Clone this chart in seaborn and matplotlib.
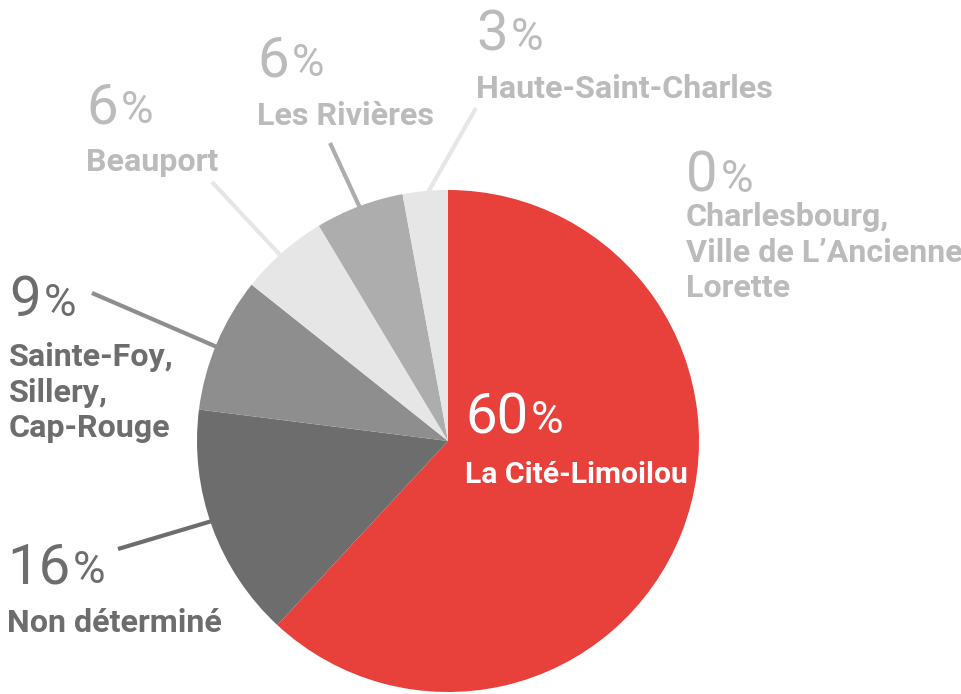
import matplotlib
matplotlib.use("Agg")
import matplotlib.pyplot as plt
import seaborn as sns

# ---- data ----
regions = ["La Cité-Limoilou", "Non déterminé", "Sainte-Foy,\nSillery,\nCap-Rouge",
           "Beauport", "Les Rivières", "Haute-Saint-Charles",
           "Charlesbourg,\nVille de L’Ancienne-\nLorette"]
shares = [61.9, 15.1, 8.7, 5.7, 5.7, 2.9, 0.0]          # slice sizes as drawn
pct_labels = ["60", "16", "9", "6", "6", "3", "0"]     # printed percentages
slice_colors = ["#E8403A", "#6D6D6D", "#8E8E8E", "#E6E6E6", "#ADADAD", "#E6E6E6", "#E6E6E6"]
text_colors = ["#FFFFFF", "#6D6D6D", "#6D6D6D", "#BBBBBB", "#BBBBBB", "#BBBBBB", "#BBBBBB"]

sns.set_theme(style="white")
plt.rcParams["font.family"] = ["Roboto", "DejaVu Sans"]

W, H = 962, 694
fig = plt.figure(figsize=(W / 100, H / 100), dpi=100)
ax = fig.add_axes([0, 0, 1, 1])

def Y(y):
    return H - y

cx, cy, r = 448, 441, 251
ax.pie(shares, colors=slice_colors, startangle=90, counterclock=False,
       center=(cx, Y(cy)), radius=r, wedgeprops=dict(linewidth=0))
ax.set_xlim(0, W)
ax.set_ylim(0, H)
ax.set_aspect("equal")
ax.axis("off")

# leader lines (pixel coords: outer end -> pie edge)
leaders = {
    1: ((118, 549), (212, 521), "#6D6D6D"),
    2: ((92, 293), (217, 347), "#8E8E8E"),
    3: ((212, 182), (281, 256), "#E6E6E6"),
    4: ((330, 143), (361, 210), "#ADADAD"),
    5: ((476, 108), (427, 194), "#E6E6E6"),
}
for i, ((x0, y0), (x1, y1), c) in leaders.items():
    ax.plot([x0, x1], [Y(y0), Y(y1)], color=c, lw=3, solid_capstyle="butt", zorder=1)

# label anchors: (x_left, digit baseline, name first baseline, name font size)
anchors = [
    (465, 433, 483, 21.7),
    (7, 583, 632, 23.2),
    (9, 316, 366, 23.2),
    (86, 123, 171, 23.2),
    (257, 76, 125, 23.2),
    (476, 50, 98, 23.2),
    (686, 192, 226, 23.2),
]
line_step = 35.5

num_fs, pct_fs = 40.5, 32
fig.canvas.draw()
renderer = fig.canvas.get_renderer()
inv = ax.transData.inverted()
for i, (x, yb, yn, nfs) in enumerate(anchors):
    t = ax.text(x, Y(yb), pct_labels[i], fontsize=num_fs, color=text_colors[i],
                ha="left", va="baseline", fontweight="normal")
    bb = t.get_window_extent(renderer=renderer)
    x_end = inv.transform((bb.x1, bb.y0))[0]
    ax.text(x_end + 3, Y(yb), "%", fontsize=pct_fs, color=text_colors[i],
            ha="left", va="baseline", fontweight="normal")
    for k, line in enumerate(regions[i].split("\n")):
        ax.text(x, Y(yn + k * line_step), line, fontsize=nfs, color=text_colors[i],
                ha="left", va="baseline", fontweight="bold")

fig.savefig("out.png", dpi=100)
